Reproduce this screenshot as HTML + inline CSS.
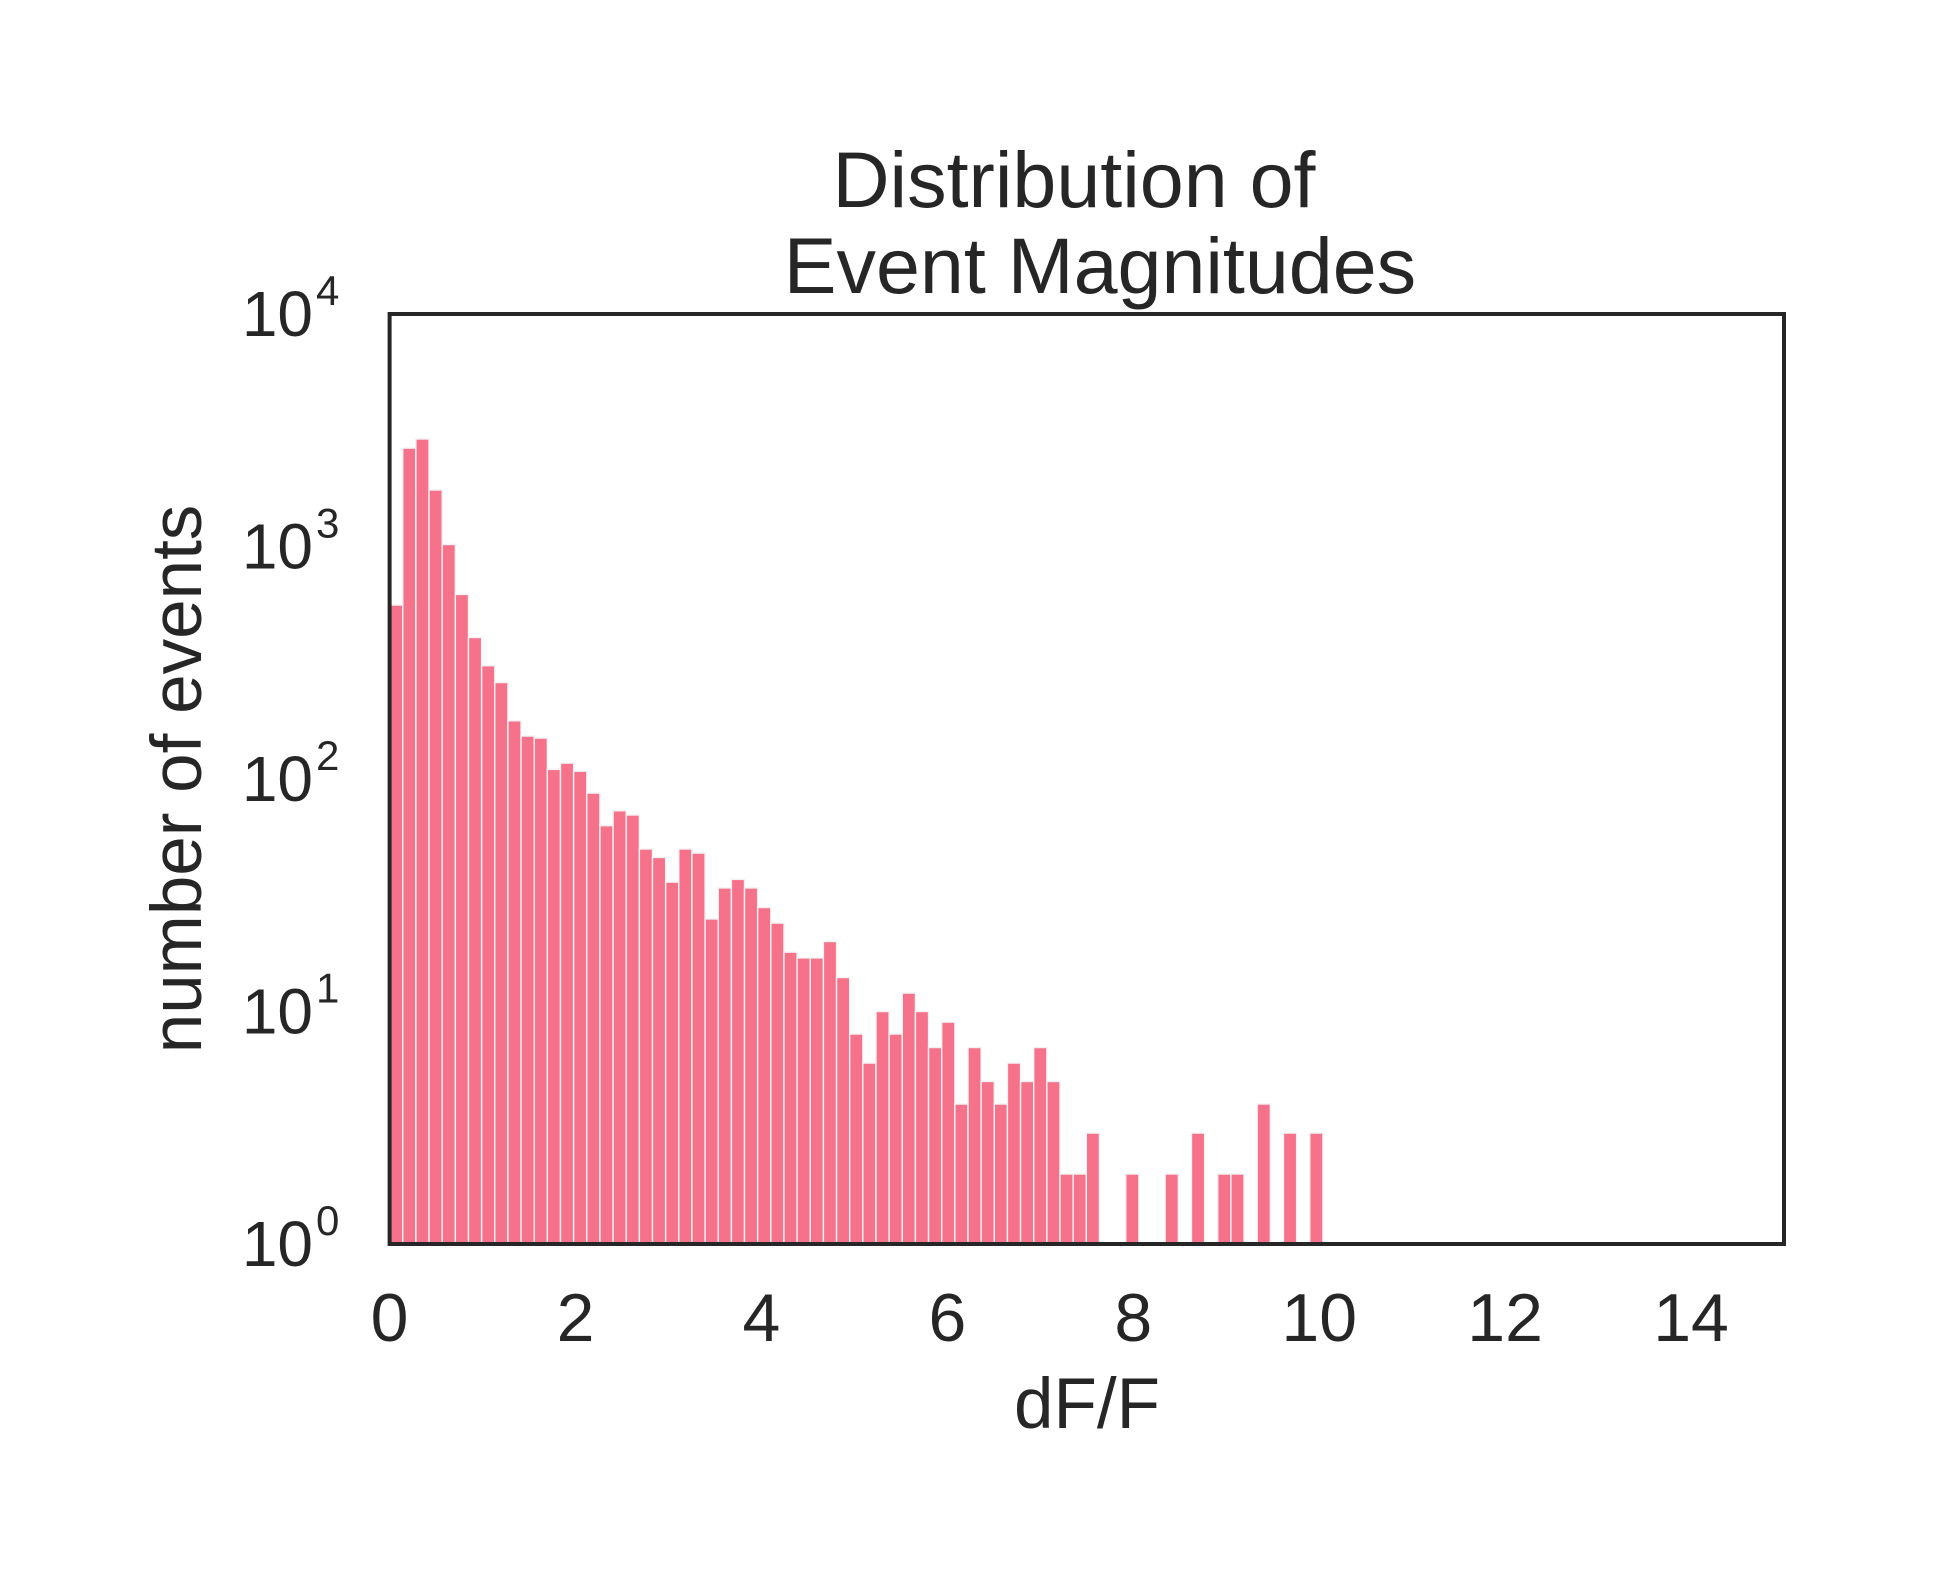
<!DOCTYPE html>
<html><head><meta charset="utf-8"><title>Distribution of Event Magnitudes</title>
<style>html,body{margin:0;padding:0;background:#fff}svg{display:block}text{font-family:"Liberation Sans",Arial,sans-serif;fill:#262626}</style>
</head><body>
<svg id="chart" xmlns="http://www.w3.org/2000/svg" width="1933" height="1591" viewBox="0 0 1933 1591">
<rect width="1933" height="1591" fill="#fff"/>
<text x="1074" y="207" font-size="79" text-anchor="middle">Distribution of</text>
<text x="1100" y="293" font-size="79" text-anchor="middle">Event Magnitudes</text>
<g id="bars"></g>
<rect x="389.6" y="314" width="1394.4" height="930" fill="none" stroke="#262626" stroke-width="4"/>
<g id="xticks"></g>
<g id="yticks"></g>
<text x="1087" y="1428" font-size="71" text-anchor="middle">dF/F</text>
<text transform="translate(201,779) rotate(-90)" font-size="71" text-anchor="middle">number of events</text>
</svg>
<script>
const binCounts = [560,2650,2900,1750,1020,622,406,307,260,178,153,150,110,117,108,87,63,73,70,50,46,36,50,48,25,34,37,34,28,24,18,17,17,20,14,8,6,10,8,12,10,7,9,4,7,5,4,6,5,7,5,2,2,3,0,0,2,0,0,2,0,3,0,2,2,0,4,0,3,0,3];
const binStart = 0;
const binEnd = 10.04;
const xTicks = [0,2,4,6,8,10,12,14];
const yTickExps = [0,1,2,3,4];

const X0 = 389.6, X1 = 1784, Y0 = 1244, Y1 = 314;
const xMin = 0, xMax = 15, yMinExp = 0, yMaxExp = 4;
function xScale(v){ return X0 + (v - xMin) / (xMax - xMin) * (X1 - X0); }
function yScale(v){ return Y0 - (Math.log10(v) - yMinExp) / (yMaxExp - yMinExp) * (Y0 - Y1); }
const NS = "http://www.w3.org/2000/svg";
const barsG = document.getElementById('bars');
const w = (binEnd - binStart) / binCounts.length;
binCounts.forEach((c, i) => {
  if (c <= 0) return;
  const xa = xScale(binStart + i * w), xb = xScale(binStart + (i + 1) * w);
  const yt = yScale(c);
  const r = document.createElementNS(NS, 'rect');
  r.setAttribute('x', xa); r.setAttribute('y', yt);
  r.setAttribute('width', xb - xa); r.setAttribute('height', Y0 - yt);
  r.setAttribute('fill', '#f6728a'); r.setAttribute('stroke', '#f2f2f4'); r.setAttribute('stroke-width', '1.4');
  
  
  barsG.appendChild(r);
});
const xg = document.getElementById('xticks');
xTicks.forEach(t => {
  const tx = document.createElementNS(NS, 'text');
  tx.setAttribute('x', xScale(t)); tx.setAttribute('y', 1341);
  tx.setAttribute('font-size', '68'); tx.setAttribute('text-anchor', 'middle');
  tx.textContent = String(t);
  
  
  xg.appendChild(tx);
});
const yg = document.getElementById('yticks');
yTickExps.forEach(e => {
  const y = yScale(Math.pow(10, e));
  const base = document.createElementNS(NS, 'text');
  base.setAttribute('x', 313); base.setAttribute('y', y + 22);
  base.setAttribute('font-size', '64'); base.setAttribute('text-anchor', 'end');
  base.textContent = '10';
  
  
  yg.appendChild(base);
  const sup = document.createElementNS(NS, 'text');
  sup.setAttribute('x', 316); sup.setAttribute('y', y - 9);
  sup.setAttribute('font-size', '42');
  sup.textContent = String(e);
  
  
  yg.appendChild(sup);
});
</script>
</body></html>
